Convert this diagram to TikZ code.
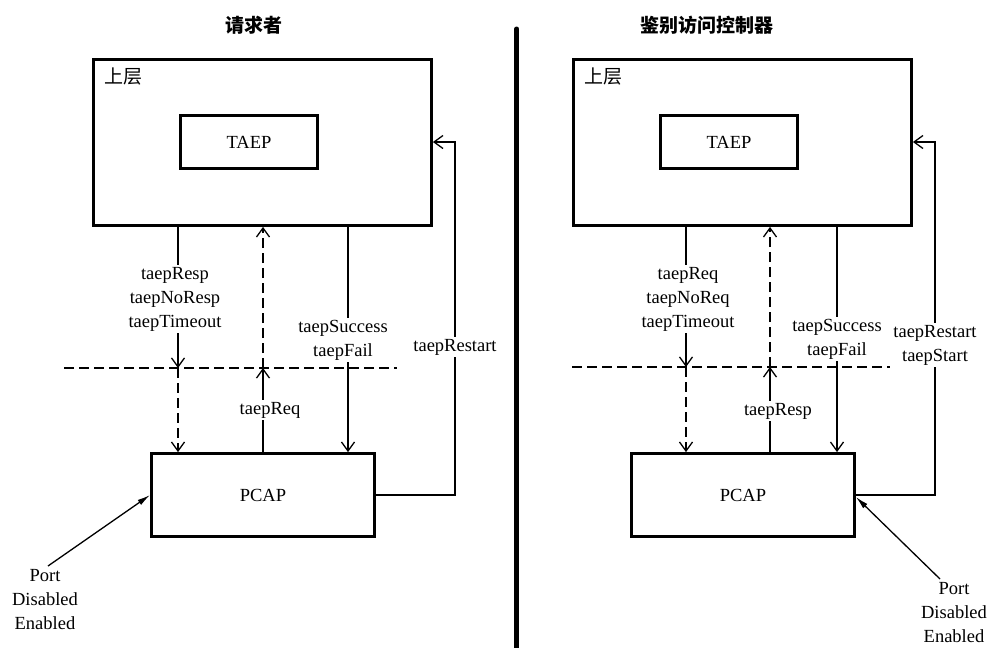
\documentclass[tikz,border=0pt]{standalone}
\usepackage{fontspec}
\setmainfont{Liberation Serif}
\newfontfamily\cjk{Noto Sans CJK SC}
\usetikzlibrary{arrows.meta}
\tikzset{
  box/.style={draw, line width=2.8pt, inner sep=0pt, font=\fontsize{18.5}{24}\selectfont},
  thinln/.style={line width=1.3pt},
  dsh/.style={thinln, dash pattern=on 10pt off 5pt},
  vtip/.style={-{Straight Barb[length=9pt,width=13pt]}},
  ptip/.style={-{Latex[length=13pt,width=6pt]}},
  lbl/.style={fill=white, align=center, inner sep=2pt, font=\fontsize{18.5}{24}\selectfont},
  ttl/.style={font=\cjk\bfseries\fontsize{19}{22}\selectfont},
  layer/.style={font=\cjk\fontsize{19}{22}\selectfont, anchor=west, inner sep=0pt},
}
\begin{document}
\begin{tikzpicture}[x=1pt,y=-1pt]
\useasboundingbox (0,0) rectangle (989,648);
% divider
\draw[line width=5pt, line cap=round] (516.7,29) -- (516.7,648);
% ---------------- left ----------------
\node[ttl] (tL) at (254,25) {请求者};
\node[box, minimum width=338pt, minimum height=166pt] (upL) at (262.5,142.5) {};
\node[layer] (layL) at (104,77) {上层};
\node[box, minimum width=137pt, minimum height=53pt] (taepL) at (249,142) {TAEP};
\node[box, minimum width=223pt, minimum height=83pt] (pcapL) at (263,495) {PCAP};
\coordinate (hLs) at (64,368);
\coordinate (hLe) at (397,368);
\coordinate (aL1) at (178,368);
\coordinate (aL2) at (263,368);
\coordinate (aL3) at (348,368);
\coordinate (rLb) at (455,495);
\coordinate (rLt) at (455,142);
\coordinate (pLs) at (48,566);
\draw[dsh] (hLs) -- (hLe);
\draw[thinln, vtip] (upL.south -| aL1) -- (aL1);
\draw[dsh, vtip] (aL1) -- (pcapL.north -| aL1);
\draw[thinln, vtip] (pcapL.north -| aL2) -- (aL2);
\draw[dsh, vtip] (aL2) -- (upL.south -| aL2);
\draw[thinln, vtip] (upL.south -| aL3) -- (pcapL.north -| aL3);
\draw[thinln, vtip] (pcapL.east) -- (rLb) -- (rLt) -- (upL.east |- rLt);
\draw[thinln, ptip] (pLs) -- (pcapL.west);
\node[lbl] (lL1) at (175,299) {taepResp\\taepNoResp\\taepTimeout};
\node[lbl] (lL2) at (270,410) {taepReq};
\node[lbl] (lL3) at (343,340) {taepSuccess\\taepFail};
\node[lbl] (lL4) at (455,347) {taepRestart};
\node[lbl, fill=none] (pL) at (45,600) {Port\\Disabled\\Enabled};
% ---------------- right ----------------
\node[ttl] (tR) at (707,25) {鉴别访问控制器};
\node[box, minimum width=338pt, minimum height=166pt] (upR) at (742.5,142.5) {};
\node[layer] (layR) at (584,77) {上层};
\node[box, minimum width=137pt, minimum height=53pt] (taepR) at (729,142) {TAEP};
\node[box, minimum width=223pt, minimum height=83pt] (pcapR) at (743,495) {PCAP};
\coordinate (hRs) at (572,367);
\coordinate (hRe) at (890,367);
\coordinate (aR1) at (686,367);
\coordinate (aR2) at (770,367);
\coordinate (aR3) at (837,367);
\coordinate (rRb) at (935,495);
\coordinate (rRt) at (935,142);
\coordinate (pRs) at (940,579);
\draw[dsh] (hRs) -- (hRe);
\draw[thinln, vtip] (upR.south -| aR1) -- (aR1);
\draw[dsh, vtip] (aR1) -- (pcapR.north -| aR1);
\draw[thinln, vtip] (pcapR.north -| aR2) -- (aR2);
\draw[dsh, vtip] (aR2) -- (upR.south -| aR2);
\draw[thinln, vtip] (upR.south -| aR3) -- (pcapR.north -| aR3);
\draw[thinln, vtip] (pcapR.east) -- (rRb) -- (rRt) -- (upR.east |- rRt);
\draw[thinln, ptip] (pRs) -- ([yshift=-2pt]pcapR.east);
\node[lbl] (lR1) at (688,299) {taepReq\\taepNoReq\\taepTimeout};
\node[lbl] (lR2) at (778,411) {taepResp};
\node[lbl] (lR3) at (837,339) {taepSuccess\\taepFail};
\node[lbl] (lR4) at (935,345) {taepRestart\\taepStart};
\node[lbl, fill=none] (pR) at (954,613) {Port\\Disabled\\Enabled};
\end{tikzpicture}
\end{document}
